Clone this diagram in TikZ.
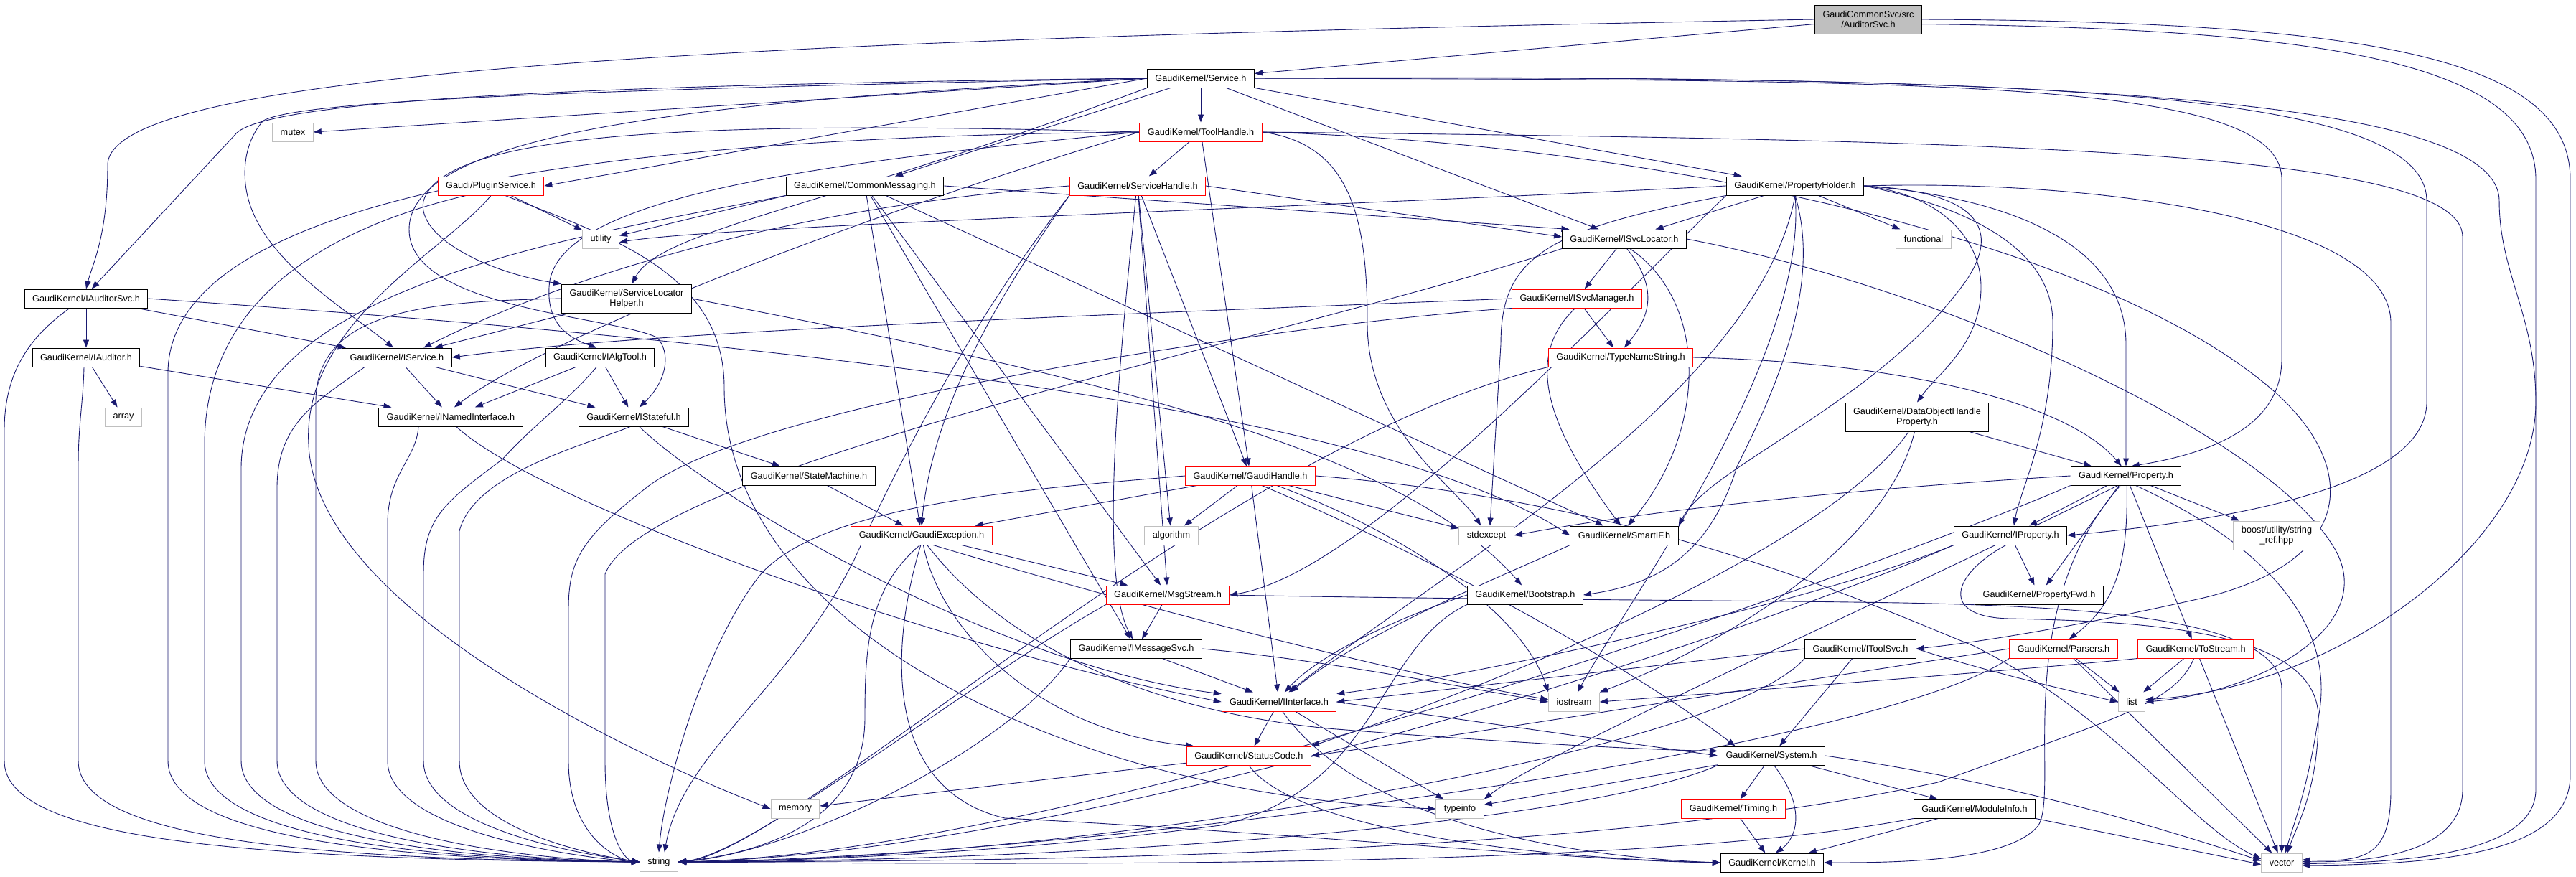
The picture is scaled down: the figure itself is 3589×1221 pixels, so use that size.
\documentclass[tikz,border=0pt]{standalone}
\usepackage{fontspec}
\setmainfont{Liberation Sans}
\usetikzlibrary{arrows.meta}
\pgfdeclarelayer{bg}
\pgfdeclarelayer{edges}
\pgfsetlayers{bg,edges,main}
\definecolor{edgeblue}{HTML}{191970}
\definecolor{sysgray}{HTML}{BFBFBF}
\begin{document}
\begin{tikzpicture}[
  x=1pt, y=-1pt,
  hdr/.style={draw=black, fill=white, line width=1pt, inner xsep=11pt, inner ysep=0pt, minimum height=26pt, align=center, font=\fontsize{12.7}{14.5}\selectfont},
  trunc/.style={hdr, draw=red},
  sys/.style={hdr, draw=sysgray},
  rootnode/.style={hdr, fill=sysgray, minimum height=40pt},
  two/.style={minimum height=40pt},
  inc/.style={draw=edgeblue, line width=0.9pt, -{Triangle[length=11pt, width=8pt]}}
]
\begin{pgfonlayer}{bg}
\fill[white] (0,0) rectangle (3589,1221);
\end{pgfonlayer}
\useasboundingbox (0,0) rectangle (3589,1221);

\node[rootnode] (root) at (2603,27) {GaudiCommonSvc/src\\/AuditorSvc.h};
\node[hdr] (svc) at (1673,109) {GaudiKernel/Service.h};
\node[trunc] (toolh) at (1673,184) {GaudiKernel/ToolHandle.h};
\node[sys] (mutex) at (408,184) {mutex};
\node[trunc] (plugin) at (684,259) {Gaudi/PluginService.h};
\node[hdr] (commsg) at (1205,259) {GaudiKernel/CommonMessaging.h};
\node[trunc] (svch) at (1585,259) {GaudiKernel/ServiceHandle.h};
\node[hdr] (propholder) at (2501,259) {GaudiKernel/PropertyHolder.h};
\node[sys] (utility) at (837,333) {utility};
\node[hdr] (isvcloc) at (2263,333) {GaudiKernel/ISvcLocator.h};
\node[sys] (functional) at (2680,333) {functional};
\node[hdr] (iauditorsvc) at (120,416) {GaudiKernel/IAuditorSvc.h};
\node[hdr, two] (slhelper) at (873,416) {GaudiKernel/ServiceLocator\\Helper.h};
\node[trunc] (isvcmgr) at (2197,416) {GaudiKernel/ISvcManager.h};
\node[hdr] (iauditor) at (120,498) {GaudiKernel/IAuditor.h};
\node[hdr] (iservice) at (553,498) {GaudiKernel/IService.h};
\node[hdr] (ialgtool) at (836,498) {GaudiKernel/IAlgTool.h};
\node[trunc] (typename) at (2258,498) {GaudiKernel/TypeNameString.h};
\node[sys] (array) at (172,581) {array};
\node[hdr] (inamed) at (628,581) {GaudiKernel/INamedInterface.h};
\node[hdr] (istateful) at (883,581) {GaudiKernel/IStateful.h};
\node[hdr, two] (dohprop) at (2671,581) {GaudiKernel/DataObjectHandle\\Property.h};
\node[hdr] (statem) at (1127,663) {GaudiKernel/StateMachine.h};
\node[trunc] (gaudih) at (1742,663) {GaudiKernel/GaudiHandle.h};
\node[hdr] (property) at (2962,663) {GaudiKernel/Property.h};
\node[trunc] (gexc) at (1284,746) {GaudiKernel/GaudiException.h};
\node[sys] (algorithm) at (1632,746) {algorithm};
\node[sys] (stdexcept) at (2071,746) {stdexcept};
\node[hdr] (smartif) at (2263,746) {GaudiKernel/SmartIF.h};
\node[hdr] (iproperty) at (2801,746) {GaudiKernel/IProperty.h};
\node[sys, two] (boost) at (3172,746) {boost/utility/string\\\_ref.hpp};
\node[trunc] (msgstream) at (1627,829) {GaudiKernel/MsgStream.h};
\node[hdr] (bootstrap) at (2125,829) {GaudiKernel/Bootstrap.h};
\node[hdr] (propfwd) at (2841,829) {GaudiKernel/PropertyFwd.h};
\node[hdr] (imsgsvc) at (1583,904) {GaudiKernel/IMessageSvc.h};
\node[hdr] (itoolsvc) at (2592,904) {GaudiKernel/IToolSvc.h};
\node[trunc] (parsers) at (2875,904) {GaudiKernel/Parsers.h};
\node[trunc] (tostream) at (3059,904) {GaudiKernel/ToStream.h};
\node[trunc] (iinterface) at (1782,978) {GaudiKernel/IInterface.h};
\node[sys] (iostream) at (2193,978) {iostream};
\node[sys] (list) at (2970,978) {list};
\node[trunc] (statuscode) at (1740,1053) {GaudiKernel/StatusCode.h};
\node[hdr] (system) at (2468,1053) {GaudiKernel/System.h};
\node[sys] (memory) at (1108,1127) {memory};
\node[sys] (typeinfo) at (2034,1127) {typeinfo};
\node[trunc] (timing) at (2415,1127) {GaudiKernel/Timing.h};
\node[hdr] (moduleinfo) at (2751,1127) {GaudiKernel/ModuleInfo.h};
\node[sys] (string) at (918,1201) {string};
\node[hdr] (kernel) at (2469,1202) {GaudiKernel/Kernel.h};
\node[sys] (vector) at (3179,1202) {vector};

\begin{pgfonlayer}{edges}
\draw[inc] (root) -- (svc);
\draw[inc] (root.west) .. controls (1000,55) and (150,100) .. (150,230) .. controls (150,330) and (128,370) .. (iauditorsvc.north);
\draw[inc] (root.-5) .. controls (3250,40) and (3533,90) .. (3533,250) -- (3533,560) .. controls (3533,760) and (3250,960) .. (list.10);
\draw[inc] (root.east) .. controls (3300,30) and (3581,80) .. (3581,250) -- (3581,1080) .. controls (3581,1190) and (3400,1204) .. (vector.-8);

\draw[inc] (svc) -- (toolh);
\draw[inc] (svc.west) -- (mutex.east);
\draw[inc] (svc.west) .. controls (800,118) and (380,140) .. (330,185) -- (iauditorsvc.60);
\draw[inc] (svc.west) .. controls (800,125) and (420,140) .. (367,168) .. controls (338,200) and (335,250) .. (350,290) .. controls (380,370) and (480,430) .. (iservice.110);
\draw[inc] (svc.west) -- (plugin.east);
\draw[inc] (svc) -- (commsg);
\draw[inc] (svc) -- (propholder);
\draw[inc] (svc) -- (isvcloc);
\draw[inc] (svc.east) .. controls (2700,112) and (3179,110) .. (3179,250) -- (3179,500) .. controls (3179,590) and (3090,630) .. (property.60);
\draw[inc] (svc.east) .. controls (2800,106) and (3381,120) .. (3381,280) -- (3381,560) .. controls (3381,690) and (3050,730) .. (iproperty.east);
\draw[inc] (svc.east) .. controls (2900,102) and (3482,140) .. (3482,280) .. controls (3482,380) and (3533,440) .. (3533,560) -- (3533,1100) .. controls (3533,1190) and (3350,1202) .. (vector.-3);
\draw[inc] (svc.south west) .. controls (1150,290) and (920,320) .. (slhelper.70);
\draw[inc] (svc.west) .. controls (1000,140) and (570,180) .. (570,320) .. controls (570,430) and (850,440) .. (915,470) .. controls (935,490) and (930,530) .. (istateful.60);

\draw[inc] (toolh) -- (svch);
\draw[inc] (toolh) -- (gaudih);
\draw[inc] (toolh.west) .. controls (1100,230) and (770,280) .. (765,400) .. controls (762,450) and (790,470) .. (ialgtool.110);
\draw[inc] (toolh.west) .. controls (1200,300) and (760,470) .. (inamed.70);
\draw[inc] (toolh.west) .. controls (1000,168) and (620,180) .. (590,280) .. controls (580,330) and (680,380) .. (slhelper.north west);
\draw[inc] (toolh.east) .. controls (2300,200) and (2900,330) .. (3150,530) .. controls (3290,640) and (3290,780) .. (3070,833) .. controls (2950,860) and (2800,890) .. (itoolsvc.east);
\draw[inc] (toolh.east) .. controls (1880,200) and (1905,300) .. (1905,450) .. controls (1905,600) and (2030,680) .. (stdexcept.120);
\draw[inc] (toolh.west) .. controls (900,190) and (234,260) .. (234,520) -- (234,1060) .. controls (234,1165) and (534,1198) .. (string.west);
\draw[inc] (toolh.east) .. controls (2800,195) and (3431,210) .. (3431,330) -- (3431,1100) .. controls (3431,1190) and (3300,1202) .. (vector.3);

\draw[inc] (plugin) -- (utility);
\draw[inc] ([xshift=-35pt]plugin.south) .. controls (450,320) and (285,420) .. (285,620) -- (285,1060) .. controls (285,1165) and (585,1198) .. (string.west);
\draw[inc] (plugin.south) .. controls (620,350) and (420,450) .. (430,620) .. controls (440,850) and (900,1060) .. (memory.west);
\draw[inc] ([xshift=20pt]plugin.south) .. controls (850,330) and (1009,380) .. (1009,540) .. controls (1009,880) and (1500,1110) .. (typeinfo.west);

\draw[inc] (commsg.south west) -- (utility.10);
\draw[inc] (commsg) -- (gexc);
\draw[inc] (commsg) -- (msgstream);
\draw[inc] (commsg) -- (imsgsvc);
\draw[inc] (commsg.east) -- (isvcloc.170);
\draw[inc] (commsg) -- (smartif);
\draw[inc] (commsg.south west) .. controls (800,330) and (340,400) .. (336,650) -- (336,1060) .. controls (336,1165) and (636,1198) .. (string.west);

\draw[inc] (svch) -- (gaudih);
\draw[inc] (svch.south west) .. controls (1400,400) and (1300,560) .. (gexc.north);
\draw[inc] (svch) -- (msgstream);
\draw[inc] (svch.-100) .. controls (1560,500) and (1530,800) .. (imsgsvc.110);
\draw[inc] (svch.east) -- (isvcloc.178);
\draw[inc] (svch.west) .. controls (1100,290) and (800,380) .. (iservice.20);
\draw[inc] (svch) -- (algorithm);
\draw[inc] (svch.south west) .. controls (1350,450) and (1250,650) .. (1190,780) .. controls (1100,960) and (950,1050) .. (string.60);

\draw[inc] (propholder) -- (isvcloc);
\draw[inc] (propholder) -- (functional);
\draw[inc] (propholder.east) .. controls (2700,270) and (2760,330) .. (2760,400) .. controls (2760,480) and (2700,520) .. (dohprop.north);
\draw[inc] (propholder.east) .. controls (2800,275) and (2962,340) .. (2962,480) -- (property.north);
\draw[inc] (propholder.east) .. controls (2750,290) and (2860,350) .. (2860,450) .. controls (2860,600) and (2815,680) .. (iproperty.70);
\draw[inc] (propholder.west) .. controls (1800,290) and (1000,315) .. (utility.-10);
\draw[inc] (propholder.south west) .. controls (2150,320) and (2091,360) .. (2091,480) -- (stdexcept.70);
\draw[inc] (propholder.east) .. controls (2900,250) and (3331,300) .. (3331,450) -- (3331,1100) .. controls (3331,1190) and (3300,1202) .. (vector.8);
\draw[inc] (propholder.east) .. controls (2720,265) and (2800,300) .. (2740,390) .. controls (2620,560) and (2380,650) .. (smartif.north east);
\draw[inc] (propholder.south) .. controls (2540,400) and (2470,550) .. (2420,650) .. controls (2380,780) and (2300,815) .. (bootstrap.east);
\draw[inc] (propholder.south west) .. controls (2250,420) and (1900,800) .. (msgstream.east);
\draw[inc] (propholder.south) .. controls (2450,550) and (2000,800) .. (iinterface.45);
\draw[inc] (propholder.south) .. controls (2520,500) and (2260,850) .. (iostream.70);

\draw[inc] (isvcloc) -- (isvcmgr);
\draw[inc] (isvcloc.-75) .. controls (2310,400) and (2300,440) .. (typename.70);
\draw[inc] (isvcloc.-60) .. controls (2380,420) and (2380,600) .. (smartif.70);
\draw[inc] (isvcloc.east) .. controls (2700,400) and (3150,600) .. (3250,760) .. controls (3320,870) and (3150,965) .. (list.east);
\draw[inc] (isvcloc.south west) .. controls (1800,470) and (900,650) .. (843,800) -- (843,1060) .. controls (843,1165) and (870,1198) .. (string.west);

\draw[inc] (isvcmgr) -- (typename);
\draw[inc] (isvcmgr.west) .. controls (1500,440) and (900,462) .. (iservice.east);
\draw[inc] (isvcmgr.-100) .. controls (2120,500) and (2160,600) .. (smartif.110);
\draw[inc] (isvcmgr.south west) .. controls (1800,450) and (1050,560) .. (900,680) .. controls (810,750) and (792,780) .. (792,850) -- (792,1060) .. controls (792,1165) and (860,1198) .. (string.west);

\draw[inc] (typename.east) .. controls (2650,505) and (2880,560) .. (property.115);
\draw[inc] (typename.south west) .. controls (1700,620) and (1100,1190) .. (string.east);

\draw[inc] (iauditorsvc) -- (iauditor);
\draw[inc] (iauditorsvc) -- (iservice);
\draw[inc] ([xshift=-23pt]iauditorsvc.south) .. controls (40,470) and (6,520) .. (6,600) -- (6,1060) .. controls (6,1165) and (306,1198) .. (string.west);
\draw[inc] (iauditorsvc.east) .. controls (1000,470) and (1900,560) .. (smartif.west);

\draw[inc] (iauditor) -- (array);
\draw[inc] (iauditor) -- (inamed);
\draw[inc] ([xshift=-3pt]iauditor.south) .. controls (116,560) and (109,590) .. (109,650) -- (109,1060) .. controls (109,1165) and (409,1198) .. (string.west);

\draw[inc] (iservice) -- (inamed);
\draw[inc] (iservice) -- (istateful);
\draw[inc] ([xshift=-45pt]iservice.south) .. controls (440,560) and (386,590) .. (386,680) -- (386,1060) .. controls (386,1165) and (686,1198) .. (string.west);

\draw[inc] (slhelper) -- (iservice);
\draw[inc] (slhelper.west) .. controls (600,420) and (440,430) .. (440,560) -- (440,1060) .. controls (440,1165) and (740,1198) .. (string.west);
\draw[inc] (slhelper.east) .. controls (1500,520) and (1950,620) .. (bootstrap.110);

\draw[inc] (ialgtool) -- (inamed);
\draw[inc] (ialgtool) -- (istateful);
\draw[inc] (ialgtool.-110) .. controls (790,560) and (745,590) .. (700,640) .. controls (620,700) and (590,720) .. (590,800) -- (590,1060) .. controls (590,1165) and (870,1198) .. (string.west);

\draw[inc] ([xshift=-45pt]inamed.south) .. controls (580,640) and (540,660) .. (540,730) -- (540,1060) .. controls (540,1165) and (840,1198) .. (string.west);
\draw[inc] (inamed.-60) .. controls (750,700) and (1300,900) .. (iinterface.180);

\draw[inc] (istateful) -- (statem);
\draw[inc] (istateful.-60) .. controls (1000,700) and (1400,930) .. (iinterface.172);
\draw[inc] (istateful.-110) .. controls (815,620) and (660,660) .. (640,740) -- (640,1060) .. controls (640,1165) and (870,1198) .. (string.west);

\draw[inc] (statem) -- (gexc);

\draw[inc] (dohprop) -- (property);
\draw[inc] (dohprop.-120) .. controls (2550,760) and (2100,950) .. (statuscode.north east);
\draw[inc] (dohprop.-100) .. controls (2630,760) and (2400,900) .. (iostream.north east);

\draw[inc] (gaudih) -- (gexc);
\draw[inc] (gaudih) -- (algorithm);
\draw[inc] (gaudih) -- (stdexcept);
\draw[inc] (gaudih) -- (iinterface);
\draw[inc] (gaudih.west) .. controls (1450,680) and (1150,700) .. (1060,800) .. controls (980,900) and (925,1100) .. (string.north);
\draw[inc] (gaudih.-20) .. controls (1950,740) and (2120,850) .. (iostream.north west);
\draw[inc] (gaudih.-40) .. controls (2050,800) and (2300,950) .. (system.165);
\draw[inc] (gaudih.east) .. controls (2300,700) and (2600,840) .. (2750,900) .. controls (2950,1000) and (3050,1150) .. (vector.170);

\draw[inc] (property) -- (iproperty);
\draw[inc] (property) -- (propfwd);
\draw[inc] (property.-85) .. controls (2965,780) and (2950,840) .. (parsers.60);
\draw[inc] (property) -- (tostream);
\draw[inc] (property) -- (boost);
\draw[inc] (property.west) .. controls (2600,680) and (2300,710) .. (stdexcept.east);
\draw[inc] (property.south west) .. controls (2600,800) and (1500,1190) .. (string.east);
\draw[inc] (property.-130) .. controls (2600,850) and (2150,1050) .. (typeinfo.north east);
\draw[inc] (property.-45) .. controls (3200,780) and (3250,900) .. (3230,1000) .. controls (3215,1100) and (3195,1150) .. (vector.70);
\draw[inc] (property.-120) .. controls (2800,850) and (2870,1100) .. (2840,1150) .. controls (2800,1200) and (2650,1202) .. (kernel.east);

\draw[inc] (gexc) -- (msgstream);
\draw[inc] (gexc.-80) .. controls (1310,880) and (1450,1020) .. (statuscode.170);
\draw[inc] (gexc.-60) .. controls (1400,900) and (1600,990) .. (1850,1015) .. controls (2100,1035) and (2300,1045) .. (system.175);
\draw[inc] (gexc.-40) .. controls (1500,820) and (1900,930) .. (iostream.175);
\draw[inc] (gexc.-100) .. controls (1210,820) and (1205,900) .. (1205,1000) .. controls (1205,1150) and (1050,1190) .. (string.east);
\draw[inc] (gexc.-95) .. controls (1240,900) and (1230,1100) .. (1400,1140) .. controls (1800,1160) and (2200,1200) .. (kernel.west);

\draw[inc] (msgstream) -- (imsgsvc);
\draw[inc] (msgstream.south west) .. controls (1350,950) and (1050,1190) .. (string.east);
\draw[inc] (msgstream.east) .. controls (2000,835) and (2400,836) .. (2650,840) .. controls (2900,845) and (3179,860) .. (3179,960) -- (vector.north);

\draw[inc] (imsgsvc) -- (iinterface);
\draw[inc] (imsgsvc.south west) .. controls (1400,1050) and (1100,1190) .. (string.east);
\draw[inc] (imsgsvc.east) .. controls (1850,920) and (2050,960) .. (iostream.west);

\draw[inc] (bootstrap.west) .. controls (1950,860) and (1840,910) .. (iinterface.60);
\draw[inc] (bootstrap.south west) .. controls (1920,900) and (1920,1100) .. (1700,1150) .. controls (1400,1190) and (1100,1200) .. (string.east);

\draw[inc] (smartif.south west) .. controls (2100,800) and (1900,880) .. (iinterface.40);

\draw[inc] (iinterface) -- (statuscode);
\draw[inc] (iinterface.east) -- (system.west);
\draw[inc] (iinterface) -- (typeinfo);
\draw[inc] (iinterface.-70) .. controls (1900,1150) and (2200,1195) .. (kernel.west);

\draw[inc] (statuscode) -- (memory);
\draw[inc] (statuscode.south) .. controls (1800,1150) and (2100,1195) .. (kernel.west);

\draw[inc] (iproperty) -- (propfwd);
\draw[inc] (iproperty.south west) .. controls (2500,850) and (2000,950) .. (iinterface.8);
\draw[inc] (iproperty.south west) .. controls (2400,900) and (1500,1190) .. (string.east);
\draw[inc] (iproperty.-115) .. controls (2720,800) and (2700,860) .. (2800,862) .. controls (3000,866) and (3230,880) .. (3230,1000) .. controls (3230,1100) and (3200,1150) .. (vector.60);

\draw[inc] (parsers) -- (list);
\draw[inc] (parsers) -- (vector);
\draw[inc] (parsers.west) .. controls (2500,950) and (2000,1030) .. (statuscode.east);
\draw[inc] (parsers.south west) .. controls (2600,1050) and (1500,1195) .. (string.east);

\draw[inc] (tostream) -- (list);
\draw[inc] (tostream) -- (vector);
\draw[inc] (tostream.south west) .. controls (2800,935) and (2400,965) .. (iostream.east);
\draw[inc] (tostream.-100) .. controls (3030,980) and (2950,1000) .. (2700,1090) .. controls (2200,1200) and (1300,1200) .. (string.east);

\draw[inc] (itoolsvc.west) -- (iinterface.east);
\draw[inc] (itoolsvc) -- (system);
\draw[inc] (itoolsvc.east) .. controls (2750,930) and (2850,955) .. (list.west);
\draw[inc] (itoolsvc.south west) .. controls (2400,1050) and (1500,1200) .. (string.east);

\draw[inc] (system) -- (timing);
\draw[inc] (system) -- (moduleinfo);
\draw[inc] (system) -- (typeinfo);
\draw[inc] (system.-75) .. controls (2520,1130) and (2500,1170) .. (kernel.70);
\draw[inc] (system.south west) .. controls (2200,1150) and (1500,1200) .. (string.east);
\draw[inc] (system.east) .. controls (2800,1090) and (3000,1150) .. (vector.175);

\draw[inc] (timing) -- (kernel);
\draw[inc] (moduleinfo) -- (kernel);
\draw[inc] (moduleinfo.south west) .. controls (2300,1210) and (1500,1205) .. (string.east);
\draw[inc] (moduleinfo.south east) -- (vector.185);
\end{pgfonlayer}
\end{tikzpicture}
\end{document}
